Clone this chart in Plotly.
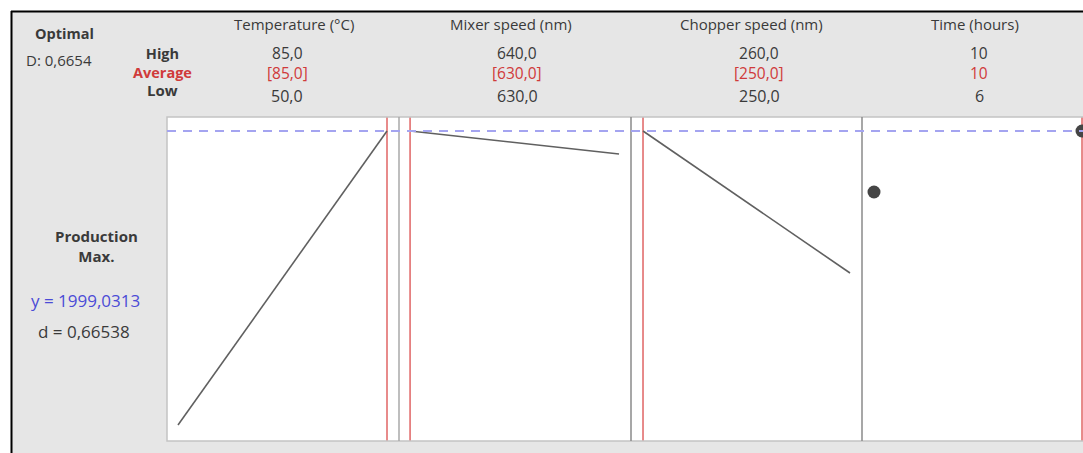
import plotly.graph_objects as go

# ---------------- data ----------------
factors = ["Temperature (°C)", "Mixer speed (nm)", "Chopper speed (nm)", "Time (hours)"]
high_labels = ["85,0", "640,0", "260,0", "10"]
current_labels = ["[85,0]", "[630,0]", "[250,0]", "10"]
low_labels = ["50,0", "630,0", "250,0", "6"]

temp_x = [50, 85]
temp_y = [1117, 1999.0313]
mixer_x = [630, 640]
mixer_y = [1999.0313, 1930]
chopper_x = [250, 260]
chopper_y = [1999.0313, 1573]
time_x = [6, 10]
time_y = [1816, 1999.0313]

current_settings = [85, 630, 250, 10]
y_optimal = 1999.0313
d_value = "0,66538"
D_composite = "0,6654"
response_name = "Production"
goal = "Max."

# ---------------- layout helpers ----------------
W, H = 1083, 453
def X(px):
    return px / W
def Y(py):
    return 1 - py / H

GRAY_TXT = "#3a3a3a"
RED = "#d03a3a"
BLUE = "#4b4bd6"
FONT = "Open Sans"
Y_RANGE = [1069, 2041]

fig = go.Figure()

axes = ["x", "x2", "x3", "x4"]

# current setting red lines (as traces so markers sit above them)
for ax, v in zip(axes, current_settings):
    fig.add_trace(go.Scatter(x=[v, v], y=Y_RANGE, mode="lines", xaxis=ax, yaxis="y",
                             line=dict(color="#e06464", width=1.5),
                             hoverinfo="skip", showlegend=False))

series = [(temp_x, temp_y), (mixer_x, mixer_y), (chopper_x, chopper_y)]
for ax, (xs, ys) in zip(axes[:3], series):
    fig.add_trace(go.Scatter(x=xs, y=ys, mode="lines", xaxis=ax, yaxis="y",
                             line=dict(color="#606060", width=1.6),
                             hoverinfo="skip", showlegend=False))
fig.add_trace(go.Scatter(x=time_x, y=time_y, mode="markers", xaxis="x4", yaxis="y",
                         marker=dict(color="#454545", size=13),
                         cliponaxis=False, hoverinfo="skip", showlegend=False))

domains = [(167, 399), (399, 631), (631, 862), (862, 1083)]
ranges = [(48.158, 87.01), (629.47, 640.574), (249.42, 260.58), (5.769, 10.019)]
y_dom = [Y(441), Y(117)]

axis_common = dict(showgrid=False, zeroline=False, showticklabels=False,
                   ticks="", showline=False, fixedrange=True)
for i, (dom, rng) in enumerate(zip(domains, ranges)):
    key = "xaxis" if i == 0 else f"xaxis{i+1}"
    fig.update_layout(**{key: dict(domain=[X(dom[0]), min(1, X(dom[1]))], range=list(rng),
                                   anchor="y", **axis_common)})
fig.update_layout(yaxis=dict(domain=y_dom, range=Y_RANGE, anchor="x", **axis_common))

shapes = []
# white strip outside the frame
shapes.append(dict(type="rect", xref="paper", yref="paper", x0=0, x1=1, y0=Y(11), y1=1,
                   fillcolor="white", line=dict(width=0), layer="below"))
shapes.append(dict(type="rect", xref="paper", yref="paper", x0=0, x1=X(11), y0=0, y1=1,
                   fillcolor="white", line=dict(width=0), layer="below"))
# black frame lines
shapes.append(dict(type="line", xref="paper", yref="paper", x0=X(11), x1=1.01, y0=Y(11.5), y1=Y(11.5),
                   line=dict(color="black", width=2)))
shapes.append(dict(type="line", xref="paper", yref="paper", x0=X(11.5), x1=X(11.5), y0=-0.01, y1=Y(11),
                   line=dict(color="black", width=2)))
# plot area frame
shapes.append(dict(type="rect", xref="paper", yref="paper", x0=X(167), x1=X(1095),
                   y0=y_dom[0], y1=y_dom[1], fillcolor="rgba(0,0,0,0)",
                   line=dict(color="#c4c4c4", width=1.5), layer="above"))
# panel dividers
div_colors = ["#a8a8a8", "#8a8a8a", "#8a8a8a"]
for (d0, _), c in zip(domains[1:], div_colors):
    shapes.append(dict(type="line", xref="paper", yref="paper", x0=X(d0), x1=X(d0),
                       y0=y_dom[0], y1=y_dom[1], line=dict(color=c, width=1.5)))
# optimal response dashed line
shapes.append(dict(type="line", xref="paper", yref="y", x0=X(167), x1=1, y0=y_optimal, y1=y_optimal,
                   line=dict(color="#a4a4f0", width=2, dash="9px,7px")))

annotations = []
def txt(text, px, py, color=GRAY_TXT, size=15, xanchor="center"):
    annotations.append(dict(text=text, x=X(px), y=Y(py), xref="paper", yref="paper",
                            xanchor=xanchor, yanchor="middle", showarrow=False, align="center",
                            font=dict(family=FONT, size=size, color=color)))

txt("<b>Optimal</b>", 64, 33, size=14.5)
txt(f"D: {D_composite}", 59, 60, size=15)
txt(f"<b>High</b><br><b><span style='color:{RED}'>Average</span></b>", 162, 63, size=14.5)
txt("<b>Low</b>", 162, 90, size=15)

head_x = [294, 511, 751, 975]
val_x = [287, 517, 759, 979]
for f, hx, vx, hi, cu, lo in zip(factors, head_x, val_x, high_labels, current_labels, low_labels):
    txt(f, hx, 24, size=15)
    txt(f"{hi}<br><span style='color:{RED}'>{cu}</span>", vx, 63, size=15.5)
    txt(lo, vx, 96, size=16)

txt(f"<b>{response_name}</b><br><b>{goal}</b>", 96, 246, size=15)
txt(f"y = {str(y_optimal).replace('.', ',')}", 85, 300, color=BLUE, size=17)
txt(f"d = {d_value}", 84, 331, size=17)

fig.update_layout(width=W, height=H, margin=dict(l=0, r=0, t=0, b=0),
                  paper_bgcolor="#e6e6e6", plot_bgcolor="white",
                  shapes=shapes, annotations=annotations, showlegend=False)

fig.write_html("out.html", config={"displayModeBar": False, "staticPlot": True},
               post_script="document.body.style.margin='0';document.body.style.overflow='hidden';")
